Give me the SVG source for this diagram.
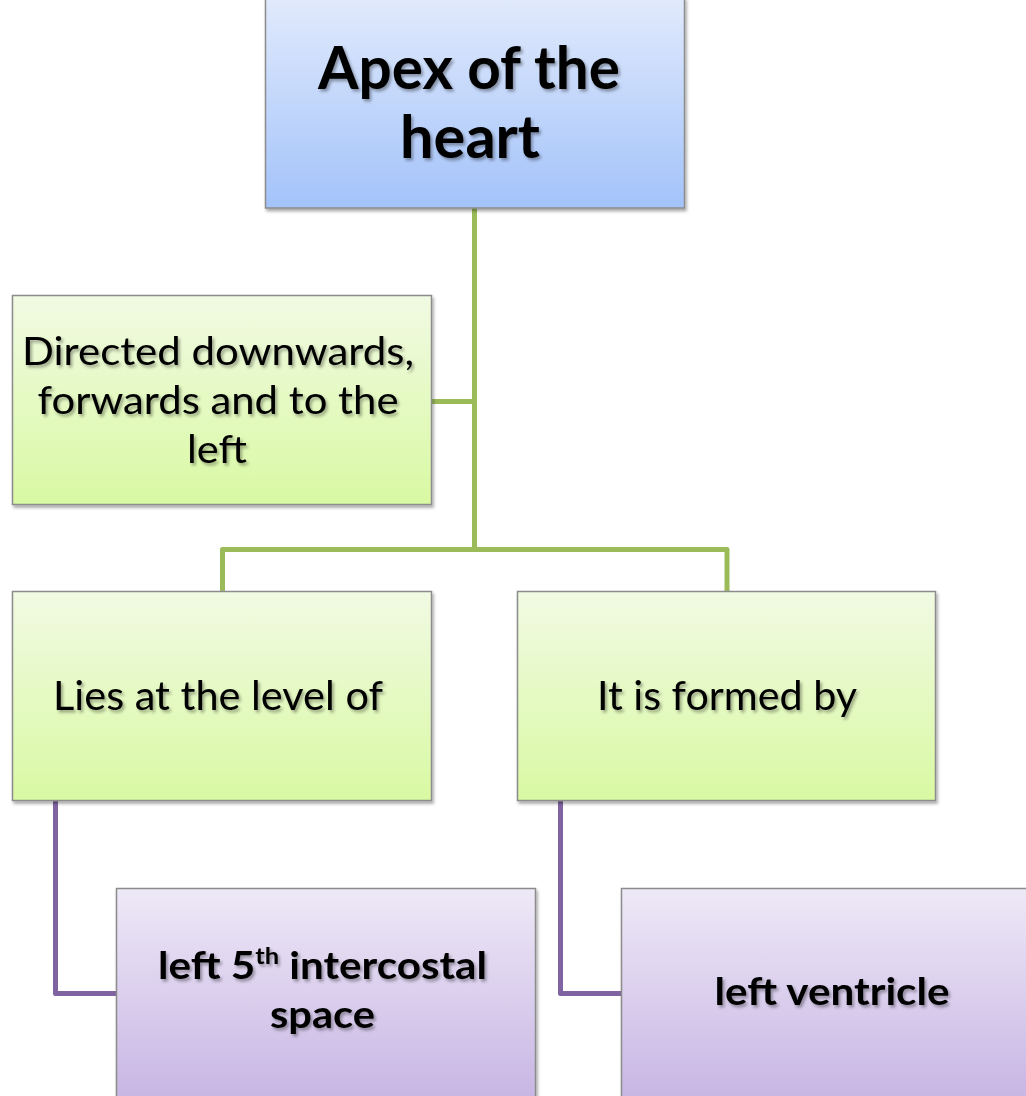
<svg xmlns="http://www.w3.org/2000/svg" width="1026" height="1096" viewBox="0 0 1026 1096">
  <defs>
    <linearGradient id="gBlue" x1="0" y1="0" x2="0" y2="1">
      <stop offset="0" stop-color="#e1eafc"/>
      <stop offset="1" stop-color="#a3c3fa"/>
    </linearGradient>
    <linearGradient id="gGreen" x1="0" y1="0" x2="0" y2="1">
      <stop offset="0" stop-color="#f1fae3"/>
      <stop offset="1" stop-color="#d9f9a3"/>
    </linearGradient>
    <linearGradient id="gPurple" x1="0" y1="0" x2="0" y2="1">
      <stop offset="0" stop-color="#eee9f7"/>
      <stop offset="1" stop-color="#c4b1e2"/>
    </linearGradient>
    <filter id="boxShadow" x="-5%" y="-5%" width="115%" height="115%">
      <feDropShadow dx="1.5" dy="2.5" stdDeviation="1.8" flood-color="#000" flood-opacity="0.35"/>
    </filter>
    <filter id="textShadow" x="-5%" y="-20%" width="115%" height="150%">
      <feDropShadow dx="2" dy="2.5" stdDeviation="1.6" flood-color="#000" flood-opacity="0.35"/>
    </filter>
  </defs>
  <style>
    .box { stroke: #8c8c8c; stroke-width: 1.5; filter: url(#boxShadow); }
    .blue { fill: url(#gBlue); }
    .green { fill: url(#gGreen); }
    .purple { fill: url(#gPurple); }
    .t { font-family: Lato, "Open Sans", "Liberation Sans", sans-serif; fill: #000; text-anchor: middle; filter: url(#textShadow); }
    .b { font-weight: bold; }
    .gline { fill: none; stroke: #9bbb59; stroke-width: 5; stroke-linejoin: round; }
    .pline { fill: none; stroke: #8064a2; stroke-width: 5; stroke-linejoin: round; }
  </style>
  <rect width="1026" height="1096" fill="#fff"/>

  <g id="connectors">
    <path class="gline" d="M474.5 208 V549.5"/>
    <path class="gline" d="M431 401.5 H474.5"/>
    <path class="gline" d="M222.5 592 V549.5 H727 V592"/>
    <path class="pline" d="M55.5 801 V993.5 H117"/>
    <path class="pline" d="M560.5 801 V993.5 H622"/>
  </g>

  <g id="apex">
    <rect class="box blue" x="265.5" y="-2" width="419" height="210"/>
    <text class="t b" font-size="59" x="469" y="89" textLength="302" lengthAdjust="spacingAndGlyphs">Apex of the</text>
    <text class="t b" font-size="59" x="470" y="158" textLength="140" lengthAdjust="spacingAndGlyphs">heart</text>
  </g>

  <g id="directed">
    <rect class="box green" x="12.5" y="295.5" width="419" height="209"/>
    <text class="t" font-size="38" x="218" y="365" textLength="392" lengthAdjust="spacingAndGlyphs">Directed downwards,</text>
    <text class="t" font-size="38" x="218" y="414" textLength="361" lengthAdjust="spacingAndGlyphs">forwards and to the</text>
    <text class="t" font-size="38" x="217" y="463" textLength="60" lengthAdjust="spacingAndGlyphs">left</text>
  </g>

  <g id="lies">
    <rect class="box green" x="12.5" y="591.5" width="419" height="209"/>
    <text class="t" font-size="40" x="218" y="710" textLength="330" lengthAdjust="spacingAndGlyphs">Lies at the level of</text>
  </g>

  <g id="formed">
    <rect class="box green" x="517.5" y="591.5" width="418" height="209"/>
    <text class="t" font-size="40" x="727" y="710" textLength="260" lengthAdjust="spacingAndGlyphs">It is formed by</text>
  </g>

  <g id="intercostal">
    <rect class="box purple" x="116.5" y="888.5" width="419" height="230"/>
    <text class="t b" font-size="38" x="322.5" y="979" textLength="329" lengthAdjust="spacingAndGlyphs">left 5<tspan font-size="23" dy="-15">th</tspan><tspan dy="15"> intercostal</tspan></text>
    <text class="t b" font-size="38" x="322.5" y="1028" textLength="105" lengthAdjust="spacingAndGlyphs">space</text>
  </g>

  <g id="ventricle">
    <rect class="box purple" x="621.5" y="888.5" width="430" height="230"/>
    <text class="t b" font-size="38" x="832" y="1005" textLength="235" lengthAdjust="spacingAndGlyphs">left ventricle</text>
  </g>
</svg>
